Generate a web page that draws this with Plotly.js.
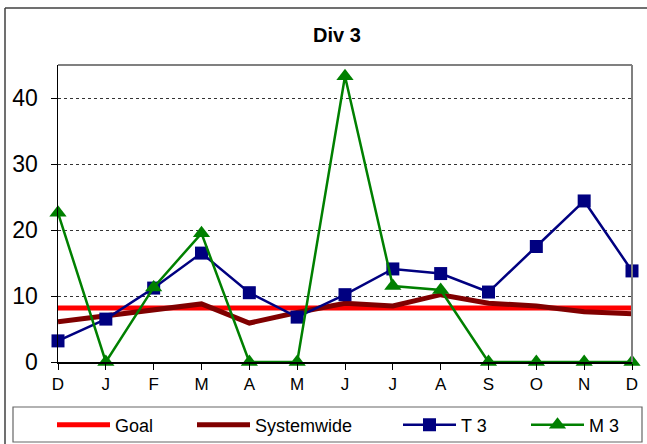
<!DOCTYPE html>
<html>
<head>
<meta charset="utf-8">
<script src="https://cdn.plot.ly/plotly-3.0.1.min.js"></script>
<style>html,body{margin:0;padding:0;background:#fff;}#chart{width:647px;height:444px;}</style>
</head>
<body>
<div id="chart"></div>
<script>
var months = ["D","J","F","M","A","M","J","J","A","S","O","N","D"];
var goal = [8.2,8.2,8.2,8.2,8.2,8.2,8.2,8.2,8.2,8.2,8.2,8.2,8.2];
var systemwide = [6.1,7.0,7.9,8.8,5.9,7.5,8.9,8.5,10.2,8.9,8.5,7.6,7.3];
var t3 = [3.2,6.5,11.2,16.5,10.5,6.8,10.2,14.1,13.4,10.6,17.5,24.4,13.8];
var m3 = [22.6,0,11.3,19.5,0,0,43.3,11.5,10.9,0,0,0,0];
var yTicks = [0, 10, 20, 30, 40];
var xIdx = months.map(function(_, i){ return i; });

var L = 58, R = 632, T = 65, B = 362, W = 647, H = 444;
function px(x){ return (x - L) / (R - L); }
function py(y){ return (B - y) / (B - T); }

var traces = [
  {name:"Goal", x:xIdx, y:goal, mode:"lines", line:{color:"#FF0000", width:5}, legend:"legend", cliponaxis:false},
  {name:"Systemwide", x:xIdx, y:systemwide, mode:"lines", line:{color:"#800000", width:5}, legend:"legend2", cliponaxis:false},
  {name:"T 3", x:xIdx, y:t3, mode:"lines+markers", line:{color:"#000080", width:2.5},
   marker:{symbol:"square", size:13, color:"#000080"}, legend:"legend3", cliponaxis:false},
  {name:"M 3", x:xIdx, y:m3, mode:"lines+markers", line:{color:"#008000", width:2.5},
   marker:{symbol:"triangle-up", size:15, color:"#008000"}, legend:"legend4", cliponaxis:false}
];

var IW = 53;
function leg(textStart){
  return {orientation: "h", xref: "container", yref: "container",
          x: (textStart - IW - 10) / W, y: 1 - 425 / H, xanchor: "left", yanchor: "middle",
          font: {size: 18}, bgcolor: "rgba(0,0,0,0)", borderwidth: 0, itemwidth: IW};
}

var layout = {
  width: W, height: H,
  paper_bgcolor: "#ffffff", plot_bgcolor: "#ffffff",
  margin: {l: L, r: W - R, t: T, b: H - B, pad: 0, autoexpand: false},
  font: {family: "Liberation Sans, Arial, sans-serif", color: "#000"},
  title: {text: "<b>Div 3</b>", font: {size: 20, family: "Liberation Sans, Arial, sans-serif"},
          xref: "container", yref: "container", x: 337 / W, y: 1 - 35 / H, xanchor: "center", yanchor: "middle"},
  showlegend: true,
  legend: leg(115), legend2: leg(255), legend3: leg(461), legend4: leg(589),
  xaxis: {range: [0, 12], tickvals: xIdx, ticktext: months, showgrid: false, zeroline: false,
          showline: true, linecolor: "#000", linewidth: 1.5, ticks: "outside", ticklen: 6,
          tickcolor: "#000", tickfont: {size: 17}, fixedrange: true, automargin: false},
  yaxis: {range: [0, 45], tickvals: yTicks, showgrid: true, gridcolor: "#333",
          griddash: "dot", gridwidth: 1, zeroline: false, showline: true, linecolor: "#000",
          linewidth: 1.5, ticks: "outside", ticklen: 6, tickcolor: "#000", tickfont: {size: 23},
          ticklabelstandoff: 8, fixedrange: true, automargin: false},
  shapes: [
    {type: "line", xref: "paper", yref: "paper", x0: 0, x1: 1, y0: 1, y1: 1, line: {color: "#808080", width: 2}},
    {type: "line", xref: "paper", yref: "paper", x0: 1, x1: 1, y0: 0, y1: 1, line: {color: "#808080", width: 2}},
    {type: "line", xref: "paper", yref: "paper", x0: px(5), x1: px(5), y0: py(8), y1: py(450), line: {color: "#404040", width: 1.5}},
    {type: "line", xref: "paper", yref: "paper", x0: px(5), x1: px(660), y0: py(8), y1: py(8), line: {color: "#404040", width: 1.5}},
    {type: "rect", xref: "paper", yref: "paper", x0: px(13), x1: px(642), y0: py(407), y1: py(442), line: {color: "#666", width: 1.2}}
  ]
};

Plotly.newPlot("chart", traces, layout, {displayModeBar: false, staticPlot: true});
</script>
</body>
</html>
